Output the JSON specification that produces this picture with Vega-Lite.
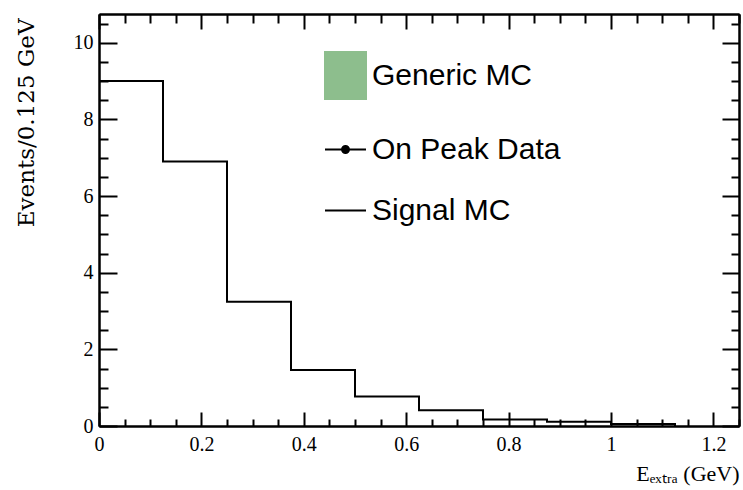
{
  "$schema": "https://vega.github.io/schema/vega-lite/v6.json",
  "width": 640,
  "height": 412,
  "autosize": {"type": "none"},
  "padding": {"left": 99, "top": 14, "right": 4, "bottom": 64},
  "background": "white",
  "config": {
    "view": {"stroke": null},
    "axis": {
      "grid": false,
      "domainColor": "black",
      "domainWidth": 2,
      "tickColor": "black",
      "tickWidth": 2,
      "labelFont": "Liberation Serif",
      "labelFontSize": 20,
      "labelColor": "black",
      "titleFont": "Liberation Serif",
      "titleFontWeight": "normal",
      "titleColor": "black",
      "labelFlush": false,
      "labelOverlap": false
    }
  },
  "data": {
    "values": [
      {"e": 0, "events": 9.0, "series": "Signal MC"},
      {"e": 0.125, "events": 6.9, "series": "Signal MC"},
      {"e": 0.25, "events": 3.24, "series": "Signal MC"},
      {"e": 0.375, "events": 1.46, "series": "Signal MC"},
      {"e": 0.5, "events": 0.77, "series": "Signal MC"},
      {"e": 0.625, "events": 0.41, "series": "Signal MC"},
      {"e": 0.75, "events": 0.17, "series": "Signal MC"},
      {"e": 0.875, "events": 0.11, "series": "Signal MC"},
      {"e": 1.0, "events": 0.05, "series": "Signal MC"},
      {"e": 1.125, "events": 0, "series": "Signal MC"}
    ]
  },
  "resolve": {"axis": {"x": "independent", "y": "independent"}},
  "layer": [
    {
      "mark": {"type": "line", "interpolate": "step-after", "strokeWidth": 2},
      "encoding": {
        "x": {
          "field": "e", "type": "quantitative",
          "scale": {"domain": [0, 1.25], "nice": false},
          "axis": {
            "orient": "bottom",
            "values": [0, 0.2, 0.4, 0.6, 0.8, 1, 1.2],
            "tickSize": -14,
            "labelPadding": 22,
            "labelExpr": "toString(round(datum.value*10)/10)",
            "title": "Eₑₓₜᵣₐ (GeV)",
            "titleFontSize": 22,
            "titleAnchor": "end",
            "titleAlign": "right",
            "titleX": 640,
            "titleY": 54,
            "titleBaseline": "alphabetic"
          }
        },
        "y": {
          "field": "events", "type": "quantitative",
          "scale": {"domain": [0, 10.75], "nice": false},
          "axis": {
            "orient": "left",
            "values": [0, 2, 4, 6, 8, 10],
            "tickSize": -18,
            "labelPadding": 24,
            "title": "Events/0.125 GeV",
            "titleFont": "DejaVu Serif",
            "titleFontSize": 23,
            "titleAngle": -90,
            "titleAnchor": "end",
            "titleAlign": "right",
            "titleBaseline": "bottom",
            "titleX": -61,
            "titleY": 4
          }
        },
        "color": {
          "field": "series", "type": "nominal",
          "scale": {"domain": ["Generic MC", "On Peak Data", "Signal MC"], "range": ["#8dbe8d", "black", "black"]},
          "legend": {
            "orient": "none",
            "legendX": 225,
            "legendY": 40,
            "title": null,
            "padding": 0,
            "symbolSize": 1681,
            "symbolStrokeWidth": 2,
            "labelFont": "Liberation Sans",
            "labelFontSize": 30,
            "labelColor": "black",
            "labelOffset": 5,
            "labelLimit": 400,
            "rowPadding": 24,
            "encode": {
              "symbols": {
                "update": {
                  "shape": {"signal": "datum.value === 'Generic MC' ? 'M-1,-1.15H1V1.15H-1Z' : datum.value === 'On Peak Data' ? 'M-1,0H1M-0.17,0A0.17,0.17 0 1 1 0.17,0A0.17,0.17 0 1 1 -0.17,0Z' : 'M-1,0H1'"},
                  "fill": {"signal": "datum.value === 'Generic MC' ? '#8dbe8d' : datum.value === 'On Peak Data' ? 'black' : 'transparent'"},
                  "stroke": {"signal": "datum.value === 'Generic MC' ? 'transparent' : 'black'"},
                  "strokeWidth": {"value": 2},
                  "opacity": {"value": 1},
                  "size": {"value": 1681}
                }
              }
            }
          }
        }
      }
    },
    {
      "mark": {"type": "line", "interpolate": "step-after", "strokeOpacity": 0},
      "encoding": {
        "x": {"field": "e", "type": "quantitative",
          "axis": {"orient": "bottom", "values": [0.05,0.1,0.15,0.25,0.3,0.35,0.45,0.5,0.55,0.65,0.7,0.75,0.85,0.9,0.95,1.05,1.1,1.15,1.25], "tickSize": -7, "labels": false, "title": null}},
        "y": {"field": "events", "type": "quantitative",
          "axis": {"orient": "left", "values": [0.5,1,1.5,2.5,3,3.5,4.5,5,5.5,6.5,7,7.5,8.5,9,9.5,10.5], "tickSize": -9, "labels": false, "title": null}}
      }
    },
    {
      "mark": {"type": "line", "interpolate": "step-after", "strokeOpacity": 0},
      "encoding": {
        "x": {"field": "e", "type": "quantitative",
          "axis": {"orient": "top", "values": [0, 0.2, 0.4, 0.6, 0.8, 1, 1.2], "tickSize": -15, "labels": false, "title": null}},
        "y": {"field": "events", "type": "quantitative",
          "axis": {"orient": "right", "values": [0, 2, 4, 6, 8, 10], "tickSize": -17, "labels": false, "title": null}}
      }
    },
    {
      "mark": {"type": "line", "interpolate": "step-after", "strokeOpacity": 0},
      "encoding": {
        "x": {"field": "e", "type": "quantitative",
          "axis": {"orient": "top", "values": [0.05,0.1,0.15,0.25,0.3,0.35,0.45,0.5,0.55,0.65,0.7,0.75,0.85,0.9,0.95,1.05,1.1,1.15,1.25], "tickSize": -9, "labels": false, "title": null}},
        "y": {"field": "events", "type": "quantitative",
          "axis": {"orient": "right", "values": [0.5,1,1.5,2.5,3,3.5,4.5,5,5.5,6.5,7,7.5,8.5,9,9.5,10.5], "tickSize": -8, "labels": false, "title": null}}
      }
    }
  ]
}
